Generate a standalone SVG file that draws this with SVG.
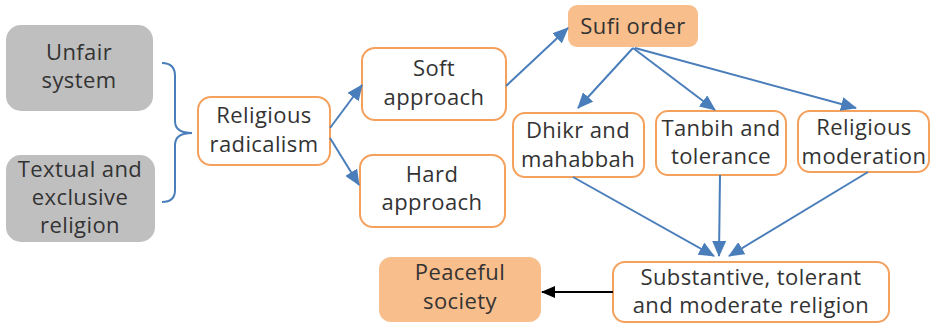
<svg xmlns="http://www.w3.org/2000/svg" width="937" height="324" viewBox="0 0 937 324">
<style>
.t{font-family:"Open Sans",Lato,"Liberation Sans",sans-serif;font-size:22px;letter-spacing:0.4px;fill:#333;text-anchor:middle}
.g{fill:#BFBFBF;stroke:none}
.w{fill:#fff;stroke:#F5A15E;stroke-width:2}
.p{fill:#F8BE8C;stroke:none}
.c{fill:none;stroke:#4A7EBB;stroke-width:2}
.k{fill:none;stroke:#000;stroke-width:2}
</style>
<defs>
<marker id="ab" markerUnits="userSpaceOnUse" markerWidth="16" markerHeight="14" refX="15" refY="7" orient="auto"><path d="M0,0 L16,7 L0,14 Z" fill="#4A7EBB"/></marker>
<marker id="ak" markerUnits="userSpaceOnUse" markerWidth="14" markerHeight="12" refX="13" refY="6" orient="auto"><path d="M0,0 L14,6 L0,12 Z" fill="#000"/></marker>
</defs>
<rect width="937" height="324" fill="#fff"/>
<g id="unfair"><rect class="g" x="6" y="25" width="147" height="86" rx="15"/><text class="t" x="79" y="60">Unfair</text><text class="t" x="79" y="88">system</text></g>
<g id="textual"><rect class="g" x="6" y="155" width="149" height="87" rx="15"/><text class="t" x="80" y="177">Textual and</text><text class="t" x="80" y="205">exclusive</text><text class="t" x="80" y="233">religion</text></g>
<g id="radicalism"><rect class="w" x="198" y="97" width="132" height="68" rx="13"/><text class="t" x="264" y="123">Religious</text><text class="t" x="264" y="152">radicalism</text></g>
<g id="soft"><rect class="w" x="362" y="48" width="144" height="72" rx="13"/><text class="t" x="434" y="76">Soft</text><text class="t" x="434" y="105">approach</text></g>
<g id="hard"><rect class="w" x="360" y="155" width="145" height="72" rx="13"/><text class="t" x="432" y="182">Hard</text><text class="t" x="432" y="210">approach</text></g>
<g id="sufi"><rect class="p" x="568" y="5" width="130" height="42" rx="9"/><text class="t" x="633" y="34">Sufi order</text></g>
<g id="dhikr"><rect class="w" x="513" y="113" width="131" height="64" rx="12"/><text class="t" x="578" y="138">Dhikr and</text><text class="t" x="578" y="167">mahabbah</text></g>
<g id="tanbih"><rect class="w" x="656" y="111" width="130" height="64" rx="12"/><text class="t" x="721" y="136">Tanbih and</text><text class="t" x="721" y="164">tolerance</text></g>
<g id="moderation"><rect class="w" x="798" y="111" width="131" height="61" rx="12"/><text class="t" x="864" y="135">Religious</text><text class="t" x="864" y="164">moderation</text></g>
<g id="substantive"><rect class="w" x="613" y="262" width="276" height="60" rx="12"/><text class="t" x="751" y="285">Substantive, tolerant</text><text class="t" x="751" y="313">and moderate religion</text></g>
<g id="peaceful"><rect class="p" x="379" y="257" width="162" height="65" rx="12"/><text class="t" x="460" y="280">Peaceful</text><text class="t" x="460" y="309">society</text></g>
<g id="connectors">
<path class="c" d="M162,63 Q175,63 175,76 L175,121 Q175,133 192,133 Q175,133 175,145 L175,190 Q175,202 162,202"/>
<line class="c" x1="330" y1="128" x2="362" y2="85" marker-end="url(#ab)"/>
<line class="c" x1="330" y1="138" x2="359" y2="185" marker-end="url(#ab)"/>
<line class="c" x1="506" y1="86" x2="568" y2="28" marker-end="url(#ab)"/>
<line class="c" x1="633" y1="48" x2="578" y2="108" marker-end="url(#ab)"/>
<line class="c" x1="633" y1="48" x2="715" y2="110" marker-end="url(#ab)"/>
<line class="c" x1="635" y1="48" x2="856" y2="108" marker-end="url(#ab)"/>
<line class="c" x1="573" y1="177" x2="714" y2="256" marker-end="url(#ab)"/>
<line class="c" x1="720" y1="175" x2="719" y2="256" marker-end="url(#ab)"/>
<line class="c" x1="868" y1="172" x2="729" y2="256" marker-end="url(#ab)"/>
<line class="k" x1="613" y1="292" x2="542" y2="292" marker-end="url(#ak)"/>
</g>
</svg>
